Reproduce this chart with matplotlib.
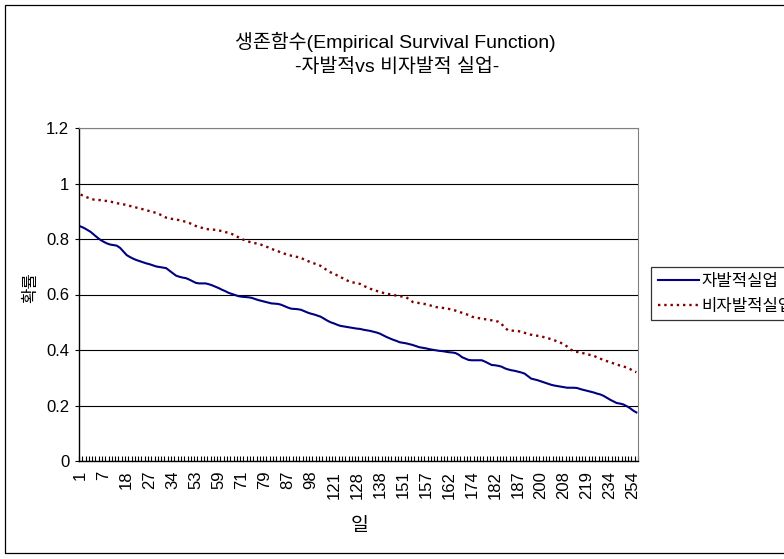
import numpy as np
import matplotlib.pyplot as plt
from matplotlib.lines import Line2D

plt.rcParams['font.family'] = ['Liberation Sans', 'Noto Sans CJK KR', 'DejaVu Sans']

# survival probability per observed day (voluntary vs involuntary unemployment)
voluntary = [
    .845, .84, .833, .826, .816, .806, .797, .79, .784, .78,
    .778, .776, .768, .755, .742, .735, .729, .724, .72, .716,
    .712, .709, .705, .701, .699, .697, .695, .686, .677, .668,
    .664, .661, .659, .654, .648, .642, .64, .64, .64, .637,
    .633, .628, .623, .617, .612, .606, .602, .598, .594, .592,
    .591, .59, .588, .584, .58, .577, .574, .571, .568, .567,
    .566, .563, .558, .553, .549, .548, .547, .545, .54, .535,
    .531, .528, .524, .52, .513, .506, .5, .496, .491, .487,
    .485, .483, .481, .479, .477, .476, .473, .471, .469, .466,
    .463, .459, .453, .447, .442, .437, .433, .428, .426, .424,
    .421, .418, .414, .41, .408, .406, .403, .401, .399, .397,
    .396, .394, .392, .391, .389, .383, .374, .369, .364, .363,
    .363, .363, .363, .358, .352, .346, .345, .343, .34, .334,
    .33, .327, .325, .322, .319, .315, .306, .297, .294, .291,
    .287, .283, .279, .275, .272, .27, .268, .266, .264, .264,
    .264, .263, .259, .256, .253, .25, .247, .243, .24, .235,
    .228, .221, .215, .209, .207, .204, .198, .191, .182, .175]

involuntary = [
    .96, .955, .95, .945, .942, .941, .94, .938, .937, .935,
    .932, .929, .927, .925, .922, .919, .917, .913, .91, .907,
    .904, .9, .897, .894, .889, .883, .877, .874, .872, .87,
    .868, .865, .862, .858, .852, .847, .843, .84, .836, .835,
    .834, .833, .831, .828, .825, .822, .818, .812, .806, .8,
    .795, .791, .787, .785, .782, .779, .774, .77, .765, .76,
    .756, .751, .747, .743, .74, .737, .735, .732, .726, .721,
    .716, .712, .708, .703, .695, .687, .68, .675, .669, .663,
    .657, .651, .645, .643, .641, .638, .632, .626, .621, .617,
    .613, .609, .606, .603, .601, .599, .596, .594, .592, .59,
    .582, .573, .571, .569, .567, .565, .562, .558, .555, .553,
    .552, .55, .548, .545, .542, .538, .534, .53, .526, .52,
    .517, .515, .513, .511, .509, .507, .505, .502, .494, .48,
    .471, .47, .469, .468, .466, .462, .458, .455, .453, .451,
    .449, .446, .443, .439, .435, .431, .426, .42, .412, .402,
    .395, .393, .391, .388, .385, .382, .379, .374, .369, .364,
    .36, .356, .352, .348, .344, .341, .337, .332, .325, .32]

# day labels shown on the category axis (every 7th category)
day_labels = ['1', '7', '18', '27', '34', '53', '59', '71', '79', '87', '98',
              '121', '128', '138', '151', '157', '162', '174', '182', '187',
              '200', '208', '219', '234', '254']
label_step = 7

W, H = 784, 559
fig = plt.figure(figsize=(W / 100, H / 100), dpi=100)

# outer chart frame
fig.add_artist(plt.Rectangle((5 / W, 1 - 553 / H), 1.2, (553 - 5) / H,
                             transform=fig.transFigure, fill=False,
                             edgecolor='black', linewidth=0.9))

ax = fig.add_axes([79 / W, 1 - 461 / H, (638 - 79) / W, (461 - 128) / H])
n = len(voluntary)
x = np.arange(n)

ax.plot(x, voluntary, color='#000080', linewidth=1.5, label='자발적실업')
ax.plot(x, involuntary, color='#800000', linewidth=1.7, linestyle=':',
        label='비자발적실업')

ax.set_xlim(-0.5, n - 0.5)
ax.set_ylim(0, 1.2)
ax.set_yticks(np.arange(0, 1.21, 0.2))
ax.set_yticklabels(['0', '0.2', '0.4', '0.6', '0.8', '1', '1.2'])
ax.yaxis.grid(True, color='black', linewidth=0.8)
ax.set_axisbelow(True)

label_pos = np.arange(len(day_labels)) * label_step
ax.set_xticks(label_pos)
ax.set_xticklabels(day_labels, rotation=90)
ax.set_xticks(np.arange(n + 1) - 0.5, minor=True)
ax.tick_params(axis='x', which='major', length=0, pad=7, labelsize=12)
ax.tick_params(axis='x', which='minor', direction='in', length=3.5,
               width=0.8, color='black')
ax.tick_params(axis='y', length=3, width=0.8, pad=4, labelsize=12)

for side in ['top', 'right']:
    ax.spines[side].set_color('#808080')
for side in ['left', 'bottom']:
    ax.spines[side].set_color('black')
    ax.spines[side].set_linewidth(1.0)

fig.text(395 / W, 1 - 42 / H, '생존함수(Empirical Survival Function)',
         ha='center', va='center', fontsize=14)
fig.text(397 / W, 1 - 67 / H, '-자발적vs 비자발적 실업-',
         ha='center', va='center', fontsize=14)
fig.text(31 / W, 1 - 288 / H, '확률', rotation=90,
         ha='center', va='center', fontsize=12)
fig.text(360 / W, 1 - 527 / H, '일', ha='center', va='center', fontsize=14)

handles = [Line2D([], [], color='#000080', linewidth=1.5),
           Line2D([], [], color='#800000', linewidth=1.7, linestyle=':')]
leg = fig.legend(handles, ['자발적실업', '비자발적실업'], loc='upper left',
                 bbox_to_anchor=(651 / W, 1 - 267 / H), borderaxespad=0,
                 fontsize=12, frameon=True, fancybox=False, shadow=False,
                 handlelength=2.5, handletextpad=0.1, borderpad=0.4,
                 labelspacing=0.6)
leg.get_frame().set_edgecolor('black')
leg.get_frame().set_linewidth(0.9)

fig.savefig('out.png', dpi=100)
